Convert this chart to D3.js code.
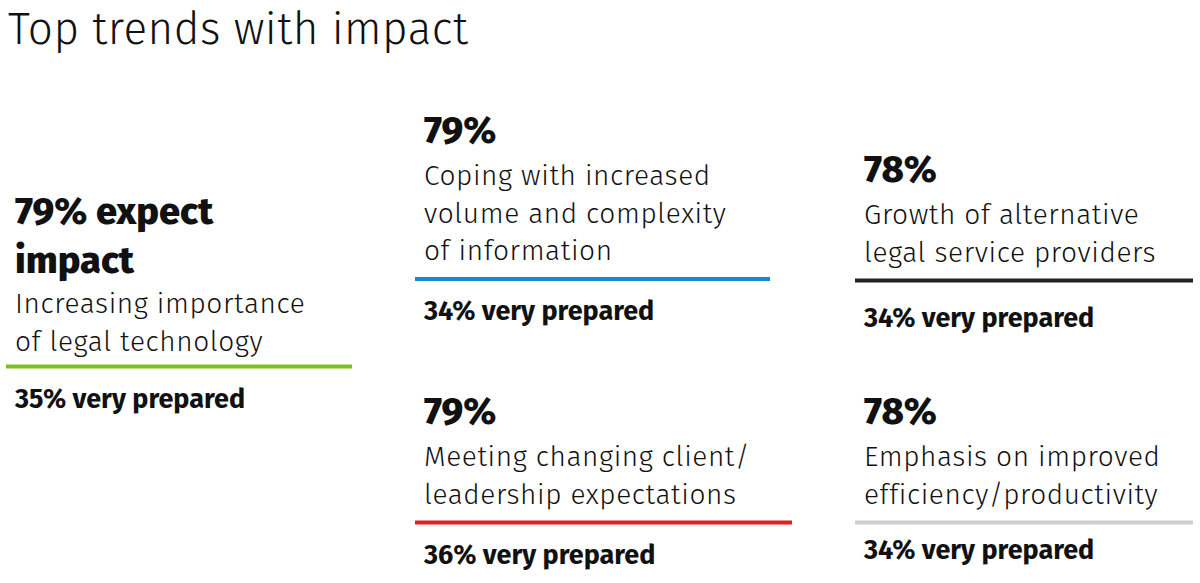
<!DOCTYPE html>
<html><head><meta charset="utf-8">
<script src="https://cdn.jsdelivr.net/npm/d3@7"></script>
<style>body{margin:0;background:#fff}text{font-family:"Fira Sans","Open Sans","Noto Sans",sans-serif;fill:#111}</style>
</head><body><svg id="c" width="1200" height="583"></svg>
<script>
const impact = [79, 79, 78, 79, 78];
const trends = [
  ["Increasing importance", "of legal technology"],
  ["Coping with increased", "volume and complexity", "of information"],
  ["Growth of alternative", "legal service providers"],
  ["Meeting changing client/", "leadership expectations"],
  ["Emphasis on improved", "efficiency/productivity"]
];
const prepared = [35, 34, 34, 36, 34];
const ruleColors = ["#7cc01e", "#1c86d0", "#222222", "#e0201c", "#cfcfcf"];

// layout per card: column and headline baseline
const col = d3.scaleOrdinal().domain([0,1,2,3,4]).range([15, 424, 864, 424, 864]);
const headY = d3.scaleOrdinal().domain([0,1,2,3,4]).range([224, 143, 182, 424, 424]);

const svg = d3.select("#c");
svg.append("text").attr("x", 8).attr("y", 44).attr("font-size", 44).attr("font-weight", 300)
  .style("letter-spacing", "0.5px").text("Top trends with impact");

impact.forEach((v, i) => {
  const g = svg.append("g");
  const x = col(i);
  let y = headY(i);
  if (i === 0) {
    g.append("text").attr("x", x).attr("y", y).attr("font-size", 38).attr("font-weight", 800).text(v + "% expect");
    y += 49;
    g.append("text").attr("x", x).attr("y", y).attr("font-size", 38).attr("font-weight", 800).text("impact");
  } else {
    g.append("text").attr("x", x).attr("y", y).attr("font-size", 38).attr("font-weight", 800).text(v + "%");
  }
  y += i === 0 ? 40 : 42;
  trends[i].forEach((t, k) => {
    g.append("text").attr("x", x).attr("y", y + k * 37.5).attr("font-size", 28).attr("font-weight", 300)
      .style("letter-spacing", "0.6px").text(t);
  });
  y += (trends[i].length - 1) * 37.5;
  const ly = y + (i === 0 ? 16 : 19);
  g.append("rect").attr("x", x - 9).attr("y", ly - 2).attr("width", i === 0 ? 346 : (i === 3 ? 377 : (i === 1 ? 355 : 338)))
    .attr("height", 4).attr("fill", ruleColors[i]);
  g.append("text").attr("x", x).attr("y", ly + (i === 2 ? 46 : (i === 4 ? 36 : 41)))
    .attr("font-size", 27).attr("font-weight", 700).text(prepared[i] + "% very prepared");
});
</script></body></html>
